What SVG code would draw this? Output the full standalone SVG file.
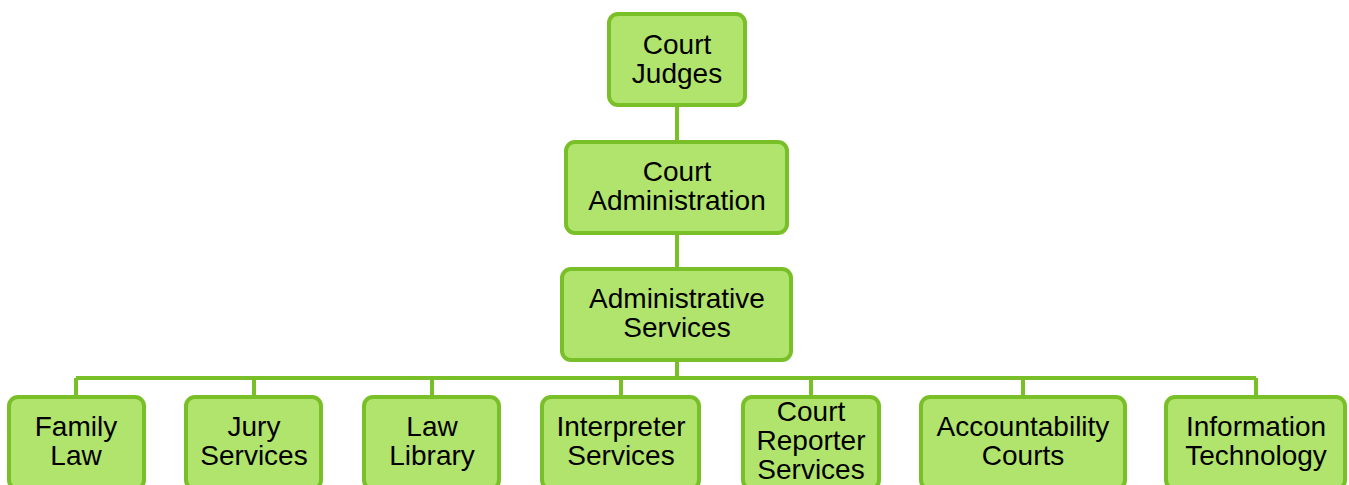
<svg xmlns="http://www.w3.org/2000/svg" width="1349" height="485" viewBox="0 0 1349 485">
<style>
.box{fill:#b1e46c;stroke:#79bf27;stroke-width:4}
.t{font-family:"Liberation Sans",Arial,sans-serif;font-size:28px;fill:#000;text-anchor:middle}
.c{fill:none;stroke:#79bf27;stroke-width:4}
</style>
<rect width="1349" height="485" fill="#fff"/>
<g id="connectors">
<path class="c" d="M677 105V141M677 233V268M677 360V378M76 378H1256M76 378V396M254 378V396M432 378V396M621 378V396M811 378V396M1023 378V396M1256 378V396"/>
</g>
<g id="court-judges"><rect class="box" x="609" y="14" width="136" height="91" rx="9"/><text class="t" x="677" y="54">Court</text><text class="t" x="677" y="83">Judges</text></g>
<g id="court-administration"><rect class="box" x="566" y="142" width="221" height="91" rx="9"/><text class="t" x="677" y="181">Court</text><text class="t" x="677" y="210">Administration</text></g>
<g id="administrative-services"><rect class="box" x="562" y="269" width="229" height="91" rx="9"/><text class="t" x="677" y="308">Administrative</text><text class="t" x="677" y="337">Services</text></g>
<g id="family-law"><rect class="box" x="9" y="397" width="135" height="92" rx="9"/><text class="t" x="76" y="436">Family</text><text class="t" x="76" y="465">Law</text></g>
<g id="jury-services"><rect class="box" x="186" y="397" width="135" height="92" rx="9"/><text class="t" x="254" y="436">Jury</text><text class="t" x="254" y="465">Services</text></g>
<g id="law-library"><rect class="box" x="364" y="397" width="135" height="92" rx="9"/><text class="t" x="432" y="436">Law</text><text class="t" x="432" y="465">Library</text></g>
<g id="interpreter-services"><rect class="box" x="542" y="397" width="157" height="92" rx="9"/><text class="t" x="621" y="436">Interpreter</text><text class="t" x="621" y="465">Services</text></g>
<g id="court-reporter-services"><rect class="box" x="743" y="397" width="136" height="92" rx="9"/><text class="t" x="811" y="421">Court</text><text class="t" x="811" y="450">Reporter</text><text class="t" x="811" y="479">Services</text></g>
<g id="accountability-courts"><rect class="box" x="921" y="397" width="204" height="92" rx="9"/><text class="t" x="1023" y="436">Accountability</text><text class="t" x="1023" y="465">Courts</text></g>
<g id="information-technology"><rect class="box" x="1166" y="397" width="179" height="92" rx="9"/><text class="t" x="1256" y="436">Information</text><text class="t" x="1256" y="465">Technology</text></g>
</svg>
